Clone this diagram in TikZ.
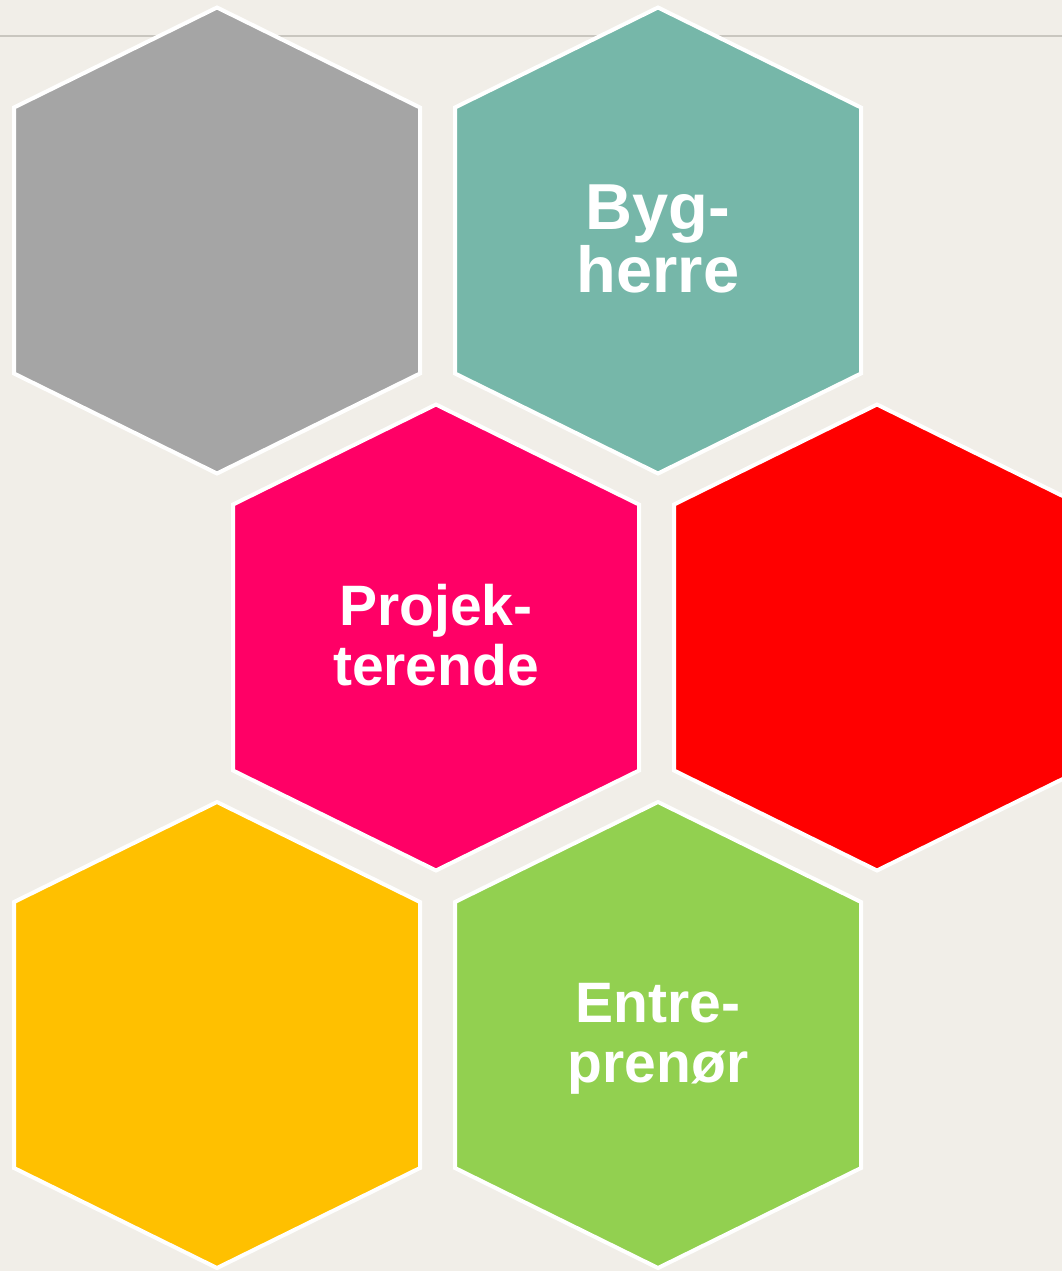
\documentclass[tikz,border=0pt]{standalone}
\usepackage{fontspec}
\setmainfont{Liberation Sans}
\usepackage{tikz}
\definecolor{paper}{RGB}{241,238,232}
\definecolor{rule}{RGB}{201,198,191}
\definecolor{hexgray}{RGB}{165,165,165}
\definecolor{hexteal}{RGB}{118,183,169}
\definecolor{hexpink}{RGB}{255,0,102}
\definecolor{hexred}{RGB}{255,0,0}
\definecolor{hexyellow}{RGB}{255,192,0}
\definecolor{hexgreen}{RGB}{146,208,80}

\begin{document}
\begin{tikzpicture}[x=1pt, y=-1pt,
		hexcell/.style={draw=white, line width=4pt, line join=miter},
		hexlabel/.style={text=white, align=center, font=\bfseries\fontsize{57}{60}\selectfont}]
		\clip (0,0) rectangle (1062,1271);
		\fill[paper] (0,0) rectangle (1062,1271);
		\draw[rule, line width=2pt] (0,36) -- (1062,36);
		\foreach \cx/\cy/\col/\nm in {217/240.5/hexgray/gray, 658/240.5/hexteal/teal,
			436/637.5/hexpink/pink, 877/637.5/hexred/red,
			217/1035/hexyellow/yellow, 658/1035/hexgreen/green}{
			\filldraw[hexcell, fill=\col, shift={(\cx,\cy)}] (0,-233) -- (203,-133) -- (203,133) -- (0,233) -- (-203,133) -- (-203,-133) -- cycle;
			\coordinate (\nm) at (\cx,\cy);
		}
		\node[hexlabel, font=\bfseries\fontsize{65}{63}\selectfont] (bygherre) at ([yshift=2pt]teal) {Byg-\\herre};
		\node[hexlabel] (projekterende) at ([yshift=2pt]pink) {Projek-\\terende};
		\node[hexlabel] (entreprenor) at ([yshift=-4pt]green) {Entre-\\prenør};
	\end{tikzpicture}
\end{document}
